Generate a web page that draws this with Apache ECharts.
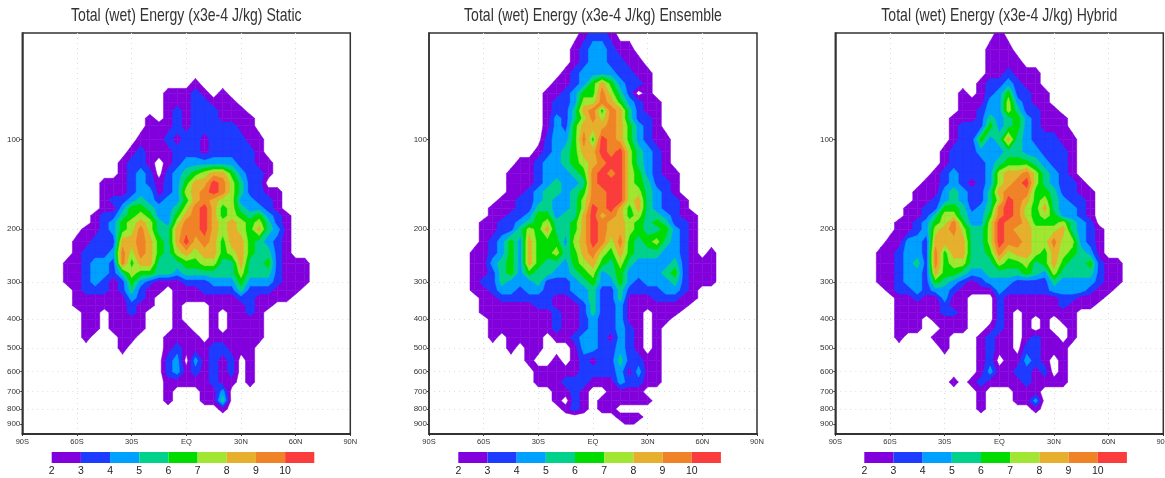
<!DOCTYPE html>
<html><head><meta charset="utf-8">
<style>html,body{margin:0;padding:0;background:#fff}#c{width:1165px;height:478px}</style>
<script src="https://cdn.jsdelivr.net/npm/echarts@6/dist/echarts.min.js"></script>
</head><body><div id="c"></div>
<script>
const latitudes=[-70,-65,-60,-55,-50,-45,-40,-35,-30,-25,-20,-15,-10,-5,0,5,10,15,20,25,30,35,40,45,50,55,60,65,70];
const pressures=[44,50,55,60,65,70,75,80,85,90,100,110,120,130,140,150,160,170,180,190,200,220,240,260,280,300,320,340,360,380,400,430,460,500,550,600,650,700,750,800,850,900];
const pressureTicks=[100,200,300,400,500,600,700,800,900];
const latTickLabels={'-90':'90S','-60':'60S','-30':'30S','0':'EQ','30':'30N','60':'60N','90':'90N'};
const levels=[2,3,4,5,6,7,8,9,10];
const levelColors=['#8200dc','#1e3cff','#00a0ff','#00d28c','#00dc00','#a0e632','#e6af2d','#f08228','#fa3c3c'];
const titles=['Total (wet) Energy (x3e-4 J/kg) Static','Total (wet) Energy (x3e-4 J/kg) Ensemble','Total (wet) Energy (x3e-4 J/kg) Hybrid'];
const none=[1,1,1,1,1,1,1,1,1,1,1,1,1,1,1,1,1,1,1,1,1,1,1,1,1,1,1,1,1];
const staticRows=[none,none,none,none,
[1,1,1,1,1,1,1,1,1,1,1,1,1,1,1,2,1,1,1,1,1,1,1,1,1,1,1,1,1],
[1,1,1,1,1,1,1,1,1,1,1,1,2,2,2,3,2,1,2,1,1,1,1,1,1,1,1,1,1],
[1,1,1,1,1,1,1,1,1,1,1,1,2,2,2,3,3,2,2,2,1,1,1,1,1,1,1,1,1],
[1,1,1,1,1,1,1,1,1,1,1,1,2,3,2,3,3,3,2,2,2,1,1,1,1,1,1,1,1],
[1,1,1,1,1,1,1,1,1,1,2,1,2,3,2,3,3,3,2,2,2,2,1,1,1,1,1,1,1],
[1,1,1,1,1,1,1,1,1,1,2,2,2,3,2,3,3,3,3,3,2,2,1,1,1,1,1,1,1],
[1,1,1,1,1,1,1,1,1,2,2,2,3,2,3,3,2,3,3,3,3,2,2,1,1,1,1,1,1],
[1,1,1,1,1,1,1,1,2,3,2,2,2,3,3,3,2,3,3,3,3,3,2,1,1,1,1,1,1],
[1,1,1,1,1,1,1,2,3,3,2,1,2,3,4,4,4,4,4,4,3,3,2,2,1,1,1,1,1],
[1,1,1,1,1,1,1,2,3,4,3,1,3,4,5,6,7,8,8,6,4,3,3,2,1,1,1,1,1],
[1,1,1,1,1,2,2,2,3,4,3,2,3,4,6,8,8,10,9,7,5,3,3,1,1,1,1,1,1],
[1,1,1,1,1,2,2,2,3,4,4,2,3,4,7,8,9,10,9,7,5,3,3,2,2,1,1,1,1],
[1,1,1,1,1,2,3,3,4,5,4,3,4,4,6,8,9,8,7,7,4,4,3,3,2,1,1,1,1],
[1,1,1,1,1,2,2,4,6,6,5,4,4,5,7,9,10,8,6,7,5,4,4,3,2,1,1,1,1],
[1,1,1,1,2,3,3,5,6,7,6,4,4,6,8,9,10,8,6,7,6,5,6,4,3,2,1,1,1],
[1,1,1,1,2,3,4,6,7,8,7,5,4,7,9,9,10,8,7,8,7,6,7,5,3,2,1,1,1],
[1,1,1,2,2,3,4,6,7,9,7,5,5,8,9,9,10,8,7,8,7,6,8,5,4,2,1,1,1],
[1,1,2,2,3,3,3,8,8,9,8,6,5,8,10,8,9,8,6,8,8,6,5,4,3,2,1,1,1],
[1,1,2,3,3,3,4,9,7,9,8,6,5,7,8,7,8,8,6,7,8,6,5,5,3,2,1,1,1],
[1,2,2,3,4,4,3,9,6,8,8,5,5,5,6,6,7,7,5,5,8,5,5,6,3,2,2,2,1],
[1,2,2,3,4,4,3,5,7,6,6,5,5,4,5,5,5,5,5,5,7,5,5,5,3,2,2,2,1],
[1,2,2,3,4,3,2,3,6,4,3,2,2,2,3,3,3,4,4,4,6,4,4,4,3,2,2,2,1],
[1,1,2,3,3,3,2,3,5,3,2,2,1,2,2,2,3,3,3,3,5,3,3,3,2,2,2,1,1],
[1,1,2,2,2,2,2,2,4,3,2,1,1,2,2,2,2,2,2,2,3,3,2,2,2,2,1,1,1],
[1,1,2,2,2,2,2,2,3,2,2,1,1,2,1,1,1,2,2,2,2,3,2,2,1,1,1,1,1],
[1,1,1,2,2,1,2,2,3,2,1,1,1,2,1,1,1,2,1,2,2,3,2,1,1,1,1,1,1],
[1,1,1,2,2,1,2,2,2,2,1,1,1,2,1,1,1,2,1,2,2,2,2,1,1,1,1,1,1],
[1,1,1,2,2,1,2,2,2,2,1,1,1,2,2,1,1,2,1,2,2,2,2,1,1,1,1,1,1],
[1,1,1,2,1,1,1,2,2,1,1,1,2,2,2,2,1,2,2,2,2,2,2,1,1,1,1,1,1],
[1,1,1,1,1,1,1,2,1,1,1,1,2,3,2,2,2,3,3,2,2,2,1,1,1,1,1,1,1],
[1,1,1,1,1,1,1,1,1,1,1,1,3,4,1,4,2,3,2,3,1,2,1,1,1,1,1,1,1],
[1,1,1,1,1,1,1,1,1,1,1,1,3,4,2,3,2,3,2,3,1,2,1,1,1,1,1,1,1],
[1,1,1,1,1,1,1,1,1,1,1,1,2,2,2,2,2,3,2,2,1,2,1,1,1,1,1,1,1],
[1,1,1,1,1,1,1,1,1,1,1,1,2,1,1,1,2,2,4,1,1,1,1,1,1,1,1,1,1],
[1,1,1,1,1,1,1,1,1,1,1,1,2,1,1,1,2,2,5,1,1,1,1,1,1,1,1,1,1],
[1,1,1,1,1,1,1,1,1,1,1,1,1,1,1,1,1,1,2,1,1,1,1,1,1,1,1,1,1],
none,none];
const ensembleRows=[
[1,1,1,1,1,1,1,1,1,1,1,1,1,2,3,3,2,1,1,1,1,1,1,1,1,1,1,1,1],
[1,1,1,1,1,1,1,1,1,1,1,1,2,3,4,4,3,2,2,1,1,1,1,1,1,1,1,1,1],
[1,1,1,1,1,1,1,1,1,1,1,1,2,3,4,4,3,3,2,2,1,1,1,1,1,1,1,1,1],
[1,1,1,1,1,1,1,1,1,1,1,2,3,4,4,4,4,3,3,2,2,1,1,1,1,1,1,1,1],
[1,1,1,1,1,1,1,1,1,1,2,2,3,4,6,8,6,4,3,3,2,1,1,1,1,1,1,1,1],
[1,1,1,1,1,1,1,1,1,2,2,3,4,6,6,9,7,5,3,1,2,1,1,1,1,1,1,1,1],
[1,1,1,1,1,1,1,1,1,2,3,3,4,7,7,9,8,6,4,3,2,2,1,1,1,1,1,1,1],
[1,1,1,1,1,1,1,1,1,2,3,3,5,8,9,6,9,8,5,3,2,2,1,1,1,1,1,1,1],
[1,1,1,1,1,1,1,1,1,2,4,3,5,7,9,7,9,8,5,3,3,2,1,1,1,1,1,1,1],
[1,1,1,1,1,1,1,1,1,2,4,3,6,8,8,8,9,8,6,4,3,2,1,1,1,1,1,1,1],
[1,1,1,1,1,1,1,1,1,3,4,4,6,9,6,10,9,8,6,4,3,2,2,1,1,1,1,1,1],
[1,1,1,1,1,1,1,1,2,3,4,5,6,8,8,10,9,10,7,5,4,3,2,1,1,1,1,1,1],
[1,1,1,1,1,1,2,2,3,4,4,5,6,7,8,9,10,10,7,5,4,3,2,1,1,1,1,1,1],
[1,1,1,1,1,2,2,2,3,4,4,4,5,6,9,10,9,10,7,6,4,3,2,2,1,1,1,1,1],
[1,1,1,1,1,2,2,2,3,4,5,4,4,5,9,10,10,10,7,6,5,3,3,2,1,1,1,1,1],
[1,1,1,1,1,2,2,3,4,5,5,4,5,6,9,9,10,10,7,7,5,4,3,2,1,1,1,1,1],
[1,1,1,1,2,2,3,3,4,5,4,4,5,7,9,9,10,10,7,8,5,4,3,3,2,1,1,1,1],
[1,1,1,2,2,2,3,3,5,5,4,4,5,7,10,9,10,8,6,8,5,4,3,3,2,1,1,1,1],
[1,1,1,2,2,3,3,4,6,6,4,5,5,8,10,8,9,8,6,7,5,5,4,3,2,2,1,1,1],
[1,1,2,2,3,3,4,5,6,7,5,5,6,8,10,9,8,8,7,6,5,6,5,3,3,2,1,1,1],
[1,1,2,2,3,3,5,7,6,8,5,5,6,8,10,9,8,8,7,6,5,5,6,4,3,2,1,1,1],
[1,1,2,3,4,6,4,8,6,6,6,4,7,8,10,9,7,9,6,5,6,7,5,4,3,2,1,1,1],
[1,2,2,3,4,6,4,8,6,6,7,5,6,8,9,7,6,8,6,5,5,5,4,4,3,2,1,2,1],
[1,2,2,4,5,6,4,8,6,5,5,4,6,7,8,6,5,7,5,4,4,4,4,5,3,2,2,2,1],
[1,2,2,3,5,6,4,6,5,5,4,4,5,6,7,4,5,6,4,4,4,4,5,6,3,2,2,2,1],
[1,2,3,3,5,4,4,4,5,3,3,3,4,5,6,4,4,6,4,3,4,4,4,5,3,2,2,2,1],
[1,2,2,3,4,4,3,4,4,3,3,3,4,4,5,3,3,5,3,3,3,3,4,4,3,2,1,1,1],
[1,1,2,2,3,3,3,3,3,3,2,2,3,4,5,3,3,5,2,2,2,3,3,3,2,2,1,1,1],
[1,1,2,2,2,2,2,2,3,3,2,2,2,3,5,3,3,4,2,2,2,2,2,2,2,1,1,1,1],
[1,1,2,2,2,2,2,2,2,2,3,2,2,3,5,3,3,4,2,2,1,2,2,2,1,1,1,1,1],
[1,1,1,2,2,2,2,2,2,2,3,2,2,3,4,3,3,4,2,2,1,2,2,1,1,1,1,1,1],
[1,1,1,2,2,2,2,2,2,2,3,2,2,3,4,3,3,4,3,2,1,2,1,1,1,1,1,1,1],
[1,1,1,2,1,2,2,2,2,1,2,2,3,4,4,3,2,4,3,2,1,2,1,1,1,1,1,1,1],
[1,1,1,1,1,2,1,2,2,1,1,1,2,4,4,3,3,4,3,2,1,2,1,1,1,1,1,1,1],
[1,1,1,1,1,1,1,2,1,1,2,1,2,3,2,3,3,5,3,3,2,2,1,1,1,1,1,1,1],
[1,1,1,1,1,1,1,1,2,2,2,2,2,3,3,3,3,4,2,4,2,2,1,1,1,1,1,1,1],
[1,1,1,1,1,1,1,1,2,2,2,3,3,3,2,2,2,4,3,3,2,2,1,1,1,1,1,1,1],
[1,1,1,1,1,1,1,1,1,1,2,2,3,2,1,1,2,2,2,2,1,1,1,1,1,1,1,1,1],
[1,1,1,1,1,1,1,1,1,1,2,1,3,2,1,2,2,2,2,2,2,1,1,1,1,1,1,1,1],
[1,1,1,1,1,1,1,1,1,1,1,2,3,2,1,2,2,1,1,1,1,1,1,1,1,1,1,1,1],
[1,1,1,1,1,1,1,1,1,1,1,1,1,1,1,1,1,2,2,2,1,1,1,1,1,1,1,1,1],
[1,1,1,1,1,1,1,1,1,1,1,1,1,1,1,1,1,1,2,1,1,1,1,1,1,1,1,1,1]];
const hybridRows=[
[1,1,1,1,1,1,1,1,1,1,1,1,1,1,2,1,1,1,1,1,1,1,1,1,1,1,1,1,1],
[1,1,1,1,1,1,1,1,1,1,1,1,1,2,2,2,1,1,1,1,1,1,1,1,1,1,1,1,1],
[1,1,1,1,1,1,1,1,1,1,1,1,1,2,2,2,2,1,1,1,1,1,1,1,1,1,1,1,1],
[1,1,1,1,1,1,1,1,1,1,1,1,1,2,2,3,2,2,2,1,1,1,1,1,1,1,1,1,1],
[1,1,1,1,1,1,1,1,1,1,1,1,2,3,3,4,3,2,2,1,1,1,1,1,1,1,1,1,1],
[1,1,1,1,1,1,1,1,1,1,2,1,2,3,4,6,3,3,2,2,1,1,1,1,1,1,1,1,1],
[1,1,1,1,1,1,1,1,1,1,2,2,2,4,4,7,4,3,2,2,1,1,1,1,1,1,1,1,1],
[1,1,1,1,1,1,1,1,1,1,2,2,3,4,4,7,5,3,3,2,2,1,1,1,1,1,1,1,1],
[1,1,1,1,1,1,1,1,1,2,2,2,3,5,4,5,6,4,3,2,2,2,1,1,1,1,1,1,1],
[1,1,1,1,1,1,1,1,1,2,3,3,3,6,4,5,6,4,3,2,2,2,1,1,1,1,1,1,1],
[1,1,1,1,1,1,1,1,1,2,3,3,6,4,5,8,5,4,3,3,3,2,2,1,1,1,1,1,1],
[1,1,1,1,1,1,1,1,2,3,3,3,4,4,4,5,5,4,4,3,3,3,2,1,1,1,1,1,1],
[1,1,1,1,1,1,1,1,2,3,3,3,3,4,5,6,6,6,5,4,3,3,2,1,1,1,1,1,1],
[1,1,1,1,1,1,1,2,3,4,3,3,3,4,7,8,8,9,7,5,4,3,2,1,1,1,1,1,1],
[1,1,1,1,1,1,2,2,3,4,3,2,3,4,7,8,9,10,7,5,4,3,3,2,1,1,1,1,1],
[1,1,1,1,1,2,2,2,4,5,4,3,3,5,8,9,9,9,6,6,5,3,3,2,2,1,1,1,1],
[1,1,1,1,1,2,2,3,4,5,4,3,3,5,7,10,9,8,6,7,5,4,3,3,2,1,1,1,1],
[1,1,1,1,2,2,3,3,6,6,5,3,4,5,9,10,9,7,6,8,5,4,4,3,2,1,1,1,1],
[1,1,1,1,2,2,3,5,7,7,5,4,4,6,9,10,9,7,6,7,6,4,4,3,2,1,1,1,1],
[1,1,1,2,2,3,4,6,7,9,6,4,4,7,10,9,9,8,6,6,6,7,5,4,3,1,1,1,1],
[1,1,1,2,2,3,4,7,8,9,7,5,5,7,10,9,8,8,7,7,7,8,5,4,3,2,1,1,1],
[1,1,2,2,4,4,3,8,8,8,8,5,5,7,10,9,9,8,7,7,9,7,7,4,3,2,1,1,1],
[1,2,2,3,4,4,3,9,6,8,8,5,5,6,9,7,8,8,7,6,8,7,6,5,4,2,1,1,1],
[1,2,2,3,4,5,3,9,6,7,7,5,5,5,7,6,6,7,5,6,8,6,5,5,6,3,2,2,1],
[1,2,2,3,4,4,3,8,6,6,5,4,4,5,5,5,5,6,5,4,7,5,5,5,5,3,2,2,1],
[1,2,2,3,4,4,3,6,5,4,3,2,3,4,4,4,3,3,3,3,5,4,4,4,4,3,2,2,1],
[1,1,2,3,3,4,3,4,4,3,2,2,2,2,4,3,3,3,3,3,4,4,4,4,3,2,2,1,1],
[1,1,1,2,2,3,2,2,4,2,2,1,1,1,3,2,2,2,2,2,2,3,3,2,2,2,1,1,1],
[1,1,1,2,2,2,2,2,3,2,2,1,1,1,3,2,2,2,2,2,2,3,2,2,2,1,1,1,1],
[1,1,1,2,2,2,2,2,3,3,2,1,1,1,3,2,1,2,2,2,2,2,2,1,1,1,1,1,1],
[1,1,1,2,2,2,1,2,2,2,2,1,1,1,3,2,1,2,1,2,1,2,2,1,1,1,1,1,1],
[1,1,1,2,2,2,1,1,2,2,2,1,1,2,3,2,1,2,1,2,1,1,2,1,1,1,1,1,1],
[1,1,1,2,1,1,1,2,2,1,1,1,2,3,2,2,1,2,3,2,2,1,2,1,1,1,1,1,1],
[1,1,1,1,1,1,1,1,2,1,1,1,2,3,2,2,1,3,3,2,2,2,1,1,1,1,1,1,1],
[1,1,1,1,1,1,1,1,1,1,1,1,2,3,1,2,2,4,3,2,1,2,1,1,1,1,1,1,1],
[1,1,1,1,1,1,1,1,1,1,1,1,2,4,2,2,3,3,2,3,1,2,1,1,1,1,1,1,1],
[1,1,1,1,1,1,1,1,1,2,1,2,3,2,2,2,2,3,2,2,2,2,1,1,1,1,1,1,1],
[1,1,1,1,1,1,1,1,1,1,1,1,2,1,1,1,2,2,2,1,1,1,1,1,1,1,1,1,1],
[1,1,1,1,1,1,1,1,1,1,1,1,2,1,1,1,2,2,4,1,1,1,1,1,1,1,1,1,1],
[1,1,1,1,1,1,1,1,1,1,1,1,2,1,1,1,1,1,2,1,1,1,1,1,1,1,1,1,1],
none,none];
const panelRows=[staticRows,ensembleRows,hybridRows];

// layout
const plotLefts=[22.3,429,835.3], plotW=328, plotTop=33, plotH=401;
const barLefts=[51.7,458.3,864.3], barW=262.6, barTop=452, barH=11;
const FONT='"Liberation Sans",sans-serif';
const logs=pressures.map(Math.log10);

function clip(c,t){ // part of a grid cell at or above threshold t
  const out=[];
  for(let i=0;i<4;i++){
    const a=c[i],b=c[(i+1)%4];
    if(a[2]>=t) out.push([a[0],a[1]]);
    if((a[2]>=t)!==(b[2]>=t)){
      const f=(t-a[2])/(b[2]-a[2]);
      out.push([a[0]+f*(b[0]-a[0]),a[1]+f*(b[1]-a[1])]);
    }
  }
  return out;
}
function cellRenderer(rows){
  return function(params,api){
    const i=api.value(2),j=api.value(3);
    const c=[[latitudes[i],logs[j],rows[j][i]],[latitudes[i+1],logs[j],rows[j][i+1]],
             [latitudes[i+1],logs[j+1],rows[j+1][i+1]],[latitudes[i],logs[j+1],rows[j+1][i]]];
    const children=[];
    levels.forEach((lv,k)=>{
      const poly=clip(c,lv-0.5);
      if(poly.length>2){
        children.push({type:'polygon',z2:k,shape:{points:poly.map(p=>api.coord(p))},
          style:{fill:levelColors[k],stroke:levelColors[k],lineWidth:0.5}});
      }
    });
    return {type:'group',children};
  };
}
function cells(rows){
  const d=[];
  for(let j=0;j<pressures.length-1;j++)for(let i=0;i<latitudes.length-1;i++){
    if(Math.max(rows[j][i],rows[j][i+1],rows[j+1][i],rows[j+1][i+1])>=2) d.push([latitudes[i],logs[j],i,j]);
  }
  return d;
}
const grids=[],xAxes=[],yAxes=[],series=[],graphic=[];
panelRows.forEach((rows,p)=>{
  const g=p*2;
  graphic.push({type:'text',x:plotLefts[p]+plotW/2,y:16,scaleX:0.74,silent:true,
    style:{text:titles[p],font:'19px "Liberation Sans",sans-serif',fill:'#333',textAlign:'center',textVerticalAlign:'middle'}});
  grids.push({left:plotLefts[p],top:plotTop,width:plotW,height:plotH,outerBoundsMode:'none',show:true,borderColor:'#333',borderWidth:1.5,backgroundColor:'#fff'});
  xAxes.push({gridIndex:g,type:'value',min:-90,max:90,interval:30,
    axisLine:{show:true,onZero:false,lineStyle:{color:'#222',width:1.5}},
    axisTick:{show:true,length:2,lineStyle:{color:'#333'}},
    splitLine:{show:true,showMinLine:false,showMaxLine:false,lineStyle:{color:'#ddd',type:[1,4],width:1}},
    axisLabel:{fontFamily:FONT,fontSize:7.5,color:'#333',margin:4,showMinLabel:true,showMaxLabel:true,hideOverlap:false,formatter:v=>latTickLabels[v]}});
  yAxes.push({gridIndex:g,type:'value',inverse:true,min:Math.log10(44),max:Math.log10(970),
    axisLine:{show:true,onZero:false,lineStyle:{color:'#333',width:1.5}},
    axisTick:{show:true,length:2,customValues:pressureTicks.map(Math.log10),lineStyle:{color:'#333'}},
    splitLine:{show:true,showMinLine:false,showMaxLine:false,lineStyle:{color:'#ddd',type:[1,4],width:1}},
    axisLabel:{fontFamily:FONT,fontSize:8,color:'#333',margin:2,customValues:pressureTicks.map(Math.log10),formatter:v=>String(Math.round(Math.pow(10,v)))}});
  series.push({type:'custom',xAxisIndex:g,yAxisIndex:g,coordinateSystem:'cartesian2d',clip:true,silent:true,
    z:1,encode:{x:0,y:1},data:cells(rows),renderItem:cellRenderer(rows),progressive:0});
  // colour bar
  grids.push({left:barLefts[p],top:barTop,width:barW,height:barH,outerBoundsMode:'none',show:false});
  xAxes.push({gridIndex:g+1,type:'value',min:levels[0],max:levels[levels.length-1]+1,
    axisLine:{show:false},axisTick:{show:false},splitLine:{show:false},
    axisLabel:{fontFamily:FONT,fontSize:10.5,color:'#222',margin:3,customValues:levels,showMinLabel:true,formatter:v=>String(v)}});
  yAxes.push({gridIndex:g+1,type:'value',min:0,max:1,show:false});
  series.push({type:'custom',xAxisIndex:g+1,yAxisIndex:g+1,coordinateSystem:'cartesian2d',silent:true,
    encode:{x:0,y:1},data:levels.map((l,k)=>[l,0,k]),progressive:0,
    renderItem:(params,api)=>{
      const k=api.value(2),l=api.value(0);
      const a=api.coord([l,1]),b=api.coord([l+1,0]);
      return {type:'rect',shape:{x:a[0],y:a[1],width:b[0]-a[0],height:b[1]-a[1]},style:{fill:levelColors[k]}};
    }});
});
const chart=echarts.init(document.getElementById('c'),null,{renderer:'canvas'});
chart.setOption({animation:false,backgroundColor:'#fff',graphic,grid:grids,xAxis:xAxes,yAxis:yAxes,series});
</script></body></html>
